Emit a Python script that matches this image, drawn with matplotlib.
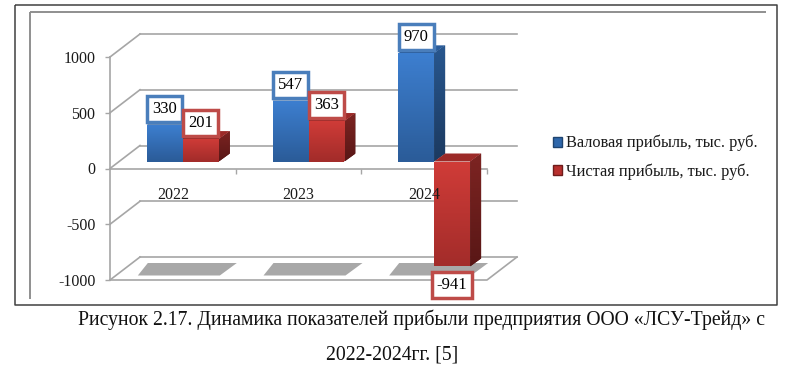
import numpy as np
import matplotlib
matplotlib.use("Agg")
import matplotlib.pyplot as plt
from matplotlib.colors import LinearSegmentedColormap as LSC
from matplotlib.lines import Line2D
from matplotlib.patches import Polygon, Patch
from matplotlib.transforms import Affine2D

years = ["2022", "2023", "2024"]
gross = [330, 547, 970]
net = [201, 363, -941]
series_names = ["Валовая прибыль, тыс. руб.", "Чистая прибыль, тыс. руб."]
yticks = [-1000, -500, 0, 500, 1000]
caption1 = "Рисунок 2.17. Динамика показателей прибыли предприятия ООО «ЛСУ-Трейд» с"
caption2 = "2022-2024гг. [5]"

W, H = 800, 377
plt.rcParams["font.family"] = ["Liberation Serif", "DejaVu Serif"]
plt.rcParams["axes.unicode_minus"] = False
fig = plt.figure(figsize=(W / 100, H / 100), dpi=100, facecolor="white")
L, R, TOP, BOT = 110, 487, 57, 280
ax = fig.add_axes([L / W, 1 - BOT / H, (R - L) / W, (BOT - TOP) / H])
ax.set_xlim(-0.5, 2.5)
ax.set_ylim(-1000, 1000)
ax.patch.set_alpha(0)

GRID = "#a6a6a6"
PX = 3 / (R - L)
PV = 2000 / (BOT - TOP)
BW = 36 / 125.67
DX, DY = 10, 7          # front of the bars inside the depth
SX, SY = 11, 8          # bar depth
T = ax.transData + Affine2D().translate(DX, DY)
TEXT = "#1a1a1a"


def fig_line(xs, ys, color, lw):
    fig.add_artist(Line2D([x / W for x in xs], [1 - y / H for y in ys], color=color, lw=lw,
                          solid_capstyle="butt"))


fig_line([15, 15, 777, 777, 15], [5, 305, 305, 5, 5], "#404040", 1.1)
fig_line([30, 30], [12, 299], "#8f8f8f", 1.4)
fig_line([30, 766], [12, 12], "#8f8f8f", 1.4)

# back wall and side lines
for v in yticks:
    ax.plot([-0.5 + 30 * PX, 2.5 + 30 * PX], [v + 23 * PV] * 2, color=GRID, lw=1.2, clip_on=False, zorder=1)
    ax.plot([-0.5, -0.5 + 30 * PX], [v, v + 23 * PV], color=GRID, lw=1.2, clip_on=False, zorder=1)
ax.plot([-0.5, 2.5, 2.5 + 30 * PX], [-1000, -1000, -1000 + 23 * PV], color=GRID, lw=1.2, clip_on=False, zorder=1)

# floor shadows
for i in range(len(years)):
    pts = [(-35, 4.5), (47, 4.5), (64, 17), (-25, 17)]
    ax.add_patch(Polygon([(i + a * PX, -1000 + b * PV) for a, b in pts], closed=True, fc="#a8a8a8", ec="none",
                         clip_on=False, zorder=1.5))


def grad(patch, x0, x1, v0, v1, c0, c1, z):
    im = ax.imshow(np.linspace(0, 1, 64)[:, None], extent=(x0, x1, v0, v1), origin="upper", aspect="auto",
                   cmap=LSC.from_list("g", [c0, c1]), zorder=z, interpolation="bilinear")
    im.set_clip_box(fig.bbox)
    im.set_clip_path(patch)


def draw_bar(i, x0, v, front, side, top, z):
    x1 = x0 + BW
    b0 = DY * PV
    hi, lo = max(v, 0) + b0, min(v, 0) + b0
    x0d, x1d = x0 + DX * PX, x1 + DX * PX
    sd = Polygon([(x1d, lo), (x1d + SX * PX, lo + SY * PV), (x1d + SX * PX, hi + SY * PV), (x1d, hi)],
                 closed=True, fc=side[1], ec="none", clip_on=False, zorder=z)
    ax.add_patch(sd)
    grad(sd, x1d, x1d + SX * PX, lo, hi + SY * PV, side[0], side[1], z + 0.01)
    ax.add_patch(Polygon([(x0d, hi), (x1d, hi), (x1d + SX * PX, hi + SY * PV), (x0d + SX * PX, hi + SY * PV)],
                         closed=True, fc=top, ec="none", clip_on=False, zorder=z + 0.02))
    bar = ax.bar(x0, v, width=BW, align="edge", transform=T, color=front[1], clip_on=False, zorder=z + 0.03)[0]
    grad(bar, x0d, x1d, lo, hi, front[0], front[1], z + 0.04)


BLUE = (("#3d7fd0", "#2b5c99"), ("#28578f", "#1c3a60"), "#2a5c9a")
RED = (("#d03c38", "#a32c2a"), ("#7d2422", "#591716"), "#9c2a28")
order = [(i, i - BW, gross[i], BLUE) for i in range(3)] + [(i, float(i), net[i], RED) for i in range(3)]
for n, (i, x0, v, st) in enumerate(sorted(order, key=lambda t: (t[0], t[1]))):
    draw_bar(i, x0, v, st[0], st[1], st[2], 3 + n * 0.2)

# data labels
for i in range(3):
    for x0, v, edge in [(i - BW, gross[i], "#4a7ebb"), (float(i), net[i], "#be4b48")]:
        off = 16 if v > 0 else -19
        ax.annotate(str(v), xy=(x0 + BW / 2, v), xycoords=T, xytext=(0, off), textcoords="offset pixels",
                    ha="center", va="center", fontsize=12, color="black", zorder=8,
                    annotation_clip=False,
                    bbox=dict(boxstyle="square,pad=0.3", fc="white", ec=edge, lw=2.5))

# axes
for s in ("top", "right"):
    ax.spines[s].set_visible(False)
ax.spines["bottom"].set_position(("data", 0))
for s in ("bottom", "left"):
    ax.spines[s].set_color(GRID)
    ax.spines[s].set_linewidth(1.2)
ax.set_yticks(yticks)
ax.tick_params(axis="y", length=3.6, width=1, color=GRID, pad=7, labelsize=11.5, labelcolor=TEXT)
ax.set_xticks(range(3), years)
ax.set_xticks([0.5, 1.5, 2.5], minor=True)
ax.tick_params(axis="x", which="major", length=0, pad=13, labelsize=11.5, labelcolor=TEXT)
ax.tick_params(axis="x", which="minor", length=3.6, width=1, color=GRID)
ax.xaxis.set_zorder(10)

handles = [Patch(fc="#2f67ab", ec="#1f4470"), Patch(fc="#b8302e", ec="#6e1c1b")]
fig.legend(handles, series_names, loc="upper left", bbox_to_anchor=(553 / W, 1 - 135 / H), frameon=False,
           fontsize=11.75, handlelength=0.58, handleheight=0.58, handletextpad=0.22, labelspacing=0.72,
           borderpad=0, borderaxespad=0, labelcolor=TEXT)

fig.text(421.5 / W, 1 - 320 / H, caption1, ha="center", va="center", fontsize=14.2, color="#111111")
fig.text(392.5 / W, 1 - 355 / H, caption2, ha="center", va="center", fontsize=14.2, color="#111111")

fig.savefig("out.png", dpi=100)
